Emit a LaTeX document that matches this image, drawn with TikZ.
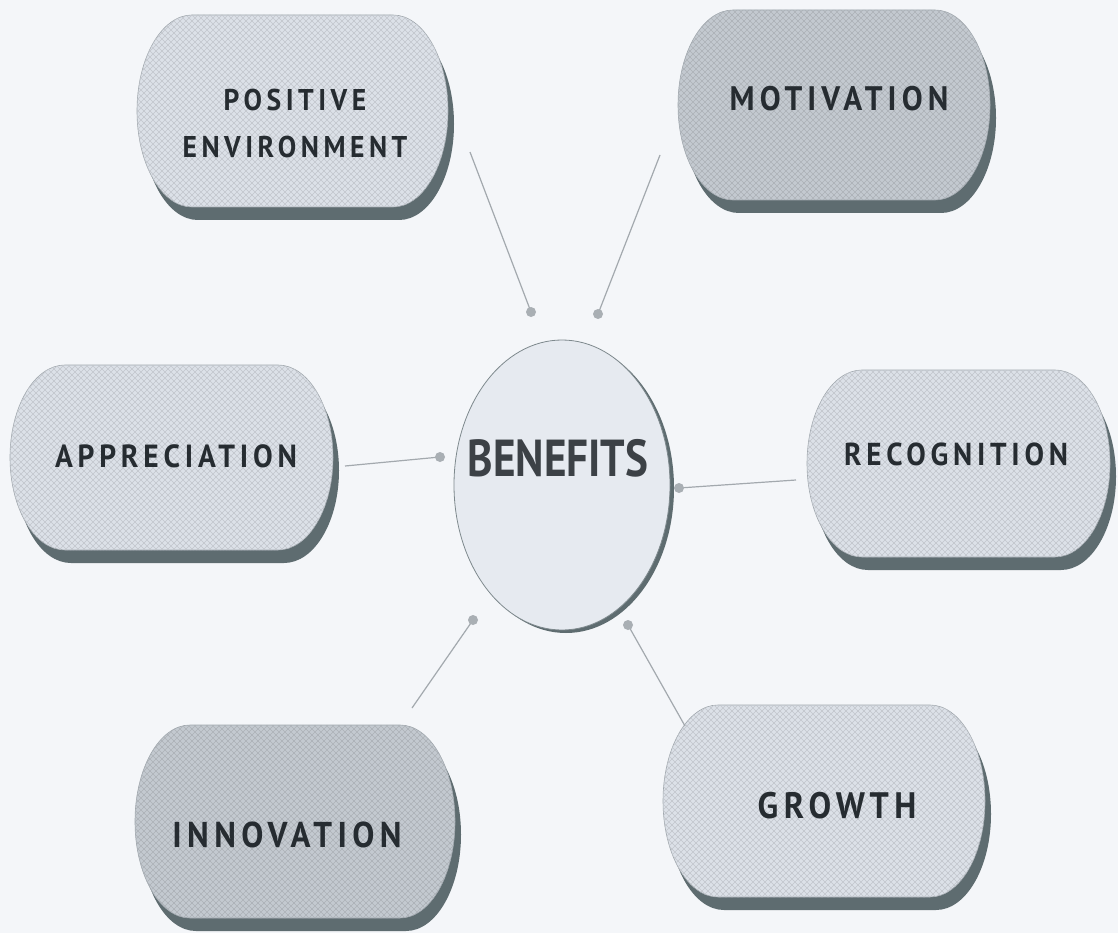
\documentclass[tikz,border=0pt]{standalone}
\usepackage{fontspec}
\usetikzlibrary{calc,shapes.geometric,patterns.meta}
\newfontfamily\lblfont{PT Sans}[FakeStretch=0.92,LetterSpace=15]
\newfontfamily\benfont{PT Sans}[FakeStretch=0.83]
\definecolor{bg}{HTML}{F4F6F9}
\definecolor{lightc}{HTML}{DCE1E8}
\definecolor{darkc}{HTML}{C3C9D0}
\definecolor{shadc}{HTML}{5E6C70}
\definecolor{edgec}{HTML}{A0A7AD}
\definecolor{txtc}{HTML}{262C31}
\definecolor{linec}{HTML}{A3A9AE}
\definecolor{dotc}{HTML}{A9AFB4}
\definecolor{benc}{HTML}{E6EAF0}
\tikzdeclarepattern{
  name=mesh, type=uncolored,
  bottom left={(-.1pt,-.1pt)}, top right={(6.1pt,6.1pt)}, tile size={(6pt,6pt)},
  code={\draw[line width=.6pt] (0pt,0pt)--(6pt,6pt) (0pt,6pt)--(6pt,0pt);}
}
\newcommand\pillpath[2]{%
\path[#2] ($(#1.north west)+(55pt,0pt)$) -- ($(#1.north east)+(-55pt,0pt)$)
 .. controls ($(#1.north east)+(-24.6pt,0pt)$) and ($(#1.east)!0.552!(#1.north east)$) .. (#1.east)
 .. controls ($(#1.east)!0.552!(#1.south east)$) and ($(#1.south east)+(-24.6pt,0pt)$) .. ($(#1.south east)+(-55pt,0pt)$)
 -- ($(#1.south west)+(55pt,0pt)$)
 .. controls ($(#1.south west)+(24.6pt,0pt)$) and ($(#1.west)!0.552!(#1.south west)$) .. (#1.west)
 .. controls ($(#1.west)!0.552!(#1.north west)$) and ($(#1.north west)+(24.6pt,0pt)$) .. cycle;}
\newcommand\pillface[2]{%
 \pillpath{#1}{fill=shadc, transform canvas={shift={(6pt,-13pt)}}}
 \pillpath{#1}{fill=#2, draw=edgec, line width=0.6pt, postaction={pattern=mesh, pattern color=#2!88!black}}}
\tikzset{
  pill/.style={rectangle, inner sep=0pt, outer sep=0pt},
  lbl/.style={font=\lblfont\bfseries\fontsize{#1}{47}\selectfont, text=txtc, align=center, inner sep=0pt},
  conn/.style={draw=linec, line width=1.2pt},
  dot/.style={circle, fill=dotc, inner sep=0pt, minimum size=10pt}
}
\begin{document}
\begin{tikzpicture}[x=1pt,y=-1pt]
\fill[bg] (0,0) rectangle (1118,933);
\useasboundingbox (0,0) rectangle (1118,933);
% pill frames
\node[pill, minimum width=311pt, minimum height=192pt] (pe)  at (292.5,111) {};
\node[pill, minimum width=312pt, minimum height=190pt] (mot) at (834,105) {};
\node[pill, minimum width=323pt, minimum height=185pt] (app) at (171.5,457.5) {};
\node[pill, minimum width=303pt, minimum height=187pt] (rec) at (958.5,463.5) {};
\node[pill, minimum width=320pt, minimum height=193pt] (inn) at (295,821.5) {};
\node[pill, minimum width=322pt, minimum height=192pt] (gro) at (824,801) {};
\pillface{pe}{lightc}
\pillface{mot}{darkc}
\pillface{app}{lightc}
\pillface{rec}{lightc}
\pillface{inn}{darkc}
\pillface{gro}{lightc}
% central ellipse
\node[ellipse, inner sep=0pt, outer sep=0pt, minimum width=216pt, minimum height=290pt] (ben) at (562,485) {};
\fill[shadc] ($(ben.center)+(4,3)$) ellipse [x radius=108, y radius=145];
\filldraw[fill=benc, draw=shadc!80, line width=0.8pt] (ben.center) ellipse [x radius=108, y radius=145];
\node[font=\benfont\bfseries\fontsize{52}{60}\selectfont, text=txtc!90, inner sep=0pt] (bentxt) at (558,458) {BENEFITS};
% connectors
\coordinate (peS) at (470,152);  \coordinate (peE) at (531,312);
\coordinate (motS) at (660,155); \coordinate (motE) at (598,314);
\coordinate (appS) at (345,466); \coordinate (appE) at (440,457);
\coordinate (recS) at (796,480); \coordinate (recE) at (679,488);
\coordinate (innS) at (412,708); \coordinate (innE) at (473,620);
\coordinate (groS) at (685,726); \coordinate (groE) at (628,625);
\draw[conn] (peS) -- (peE);
\draw[conn] (motS) -- (motE);
\draw[conn] (appS) -- (appE);
\draw[conn] (recS) -- (recE);
\draw[conn] (innS) -- (innE);
\draw[conn] (groS) -- (groE);
\node[dot] (peD) at (peE) {};
\node[dot] (motD) at (motE) {};
\node[dot] (appD) at (appE) {};
\node[dot] (recD) at (recE) {};
\node[dot] (innD) at (innE) {};
\node[dot] (groD) at (groE) {};
% labels
\node[lbl=30] (peL)  at (295,124) {POSITIVE\\ENVIRONMENT};
\node[lbl=34] (motL) at (839,99) {MOTIVATION};
\node[lbl=32] (appL) at (176,456) {APPRECIATION};
\node[lbl=31.7] (recL) at (956,454) {RECOGNITION};
\node[lbl=35.9] (innL) at (287,835) {INNOVATION};
\node[lbl=36.8] (groL) at (837,806) {GROWTH};
\end{tikzpicture}
\end{document}
